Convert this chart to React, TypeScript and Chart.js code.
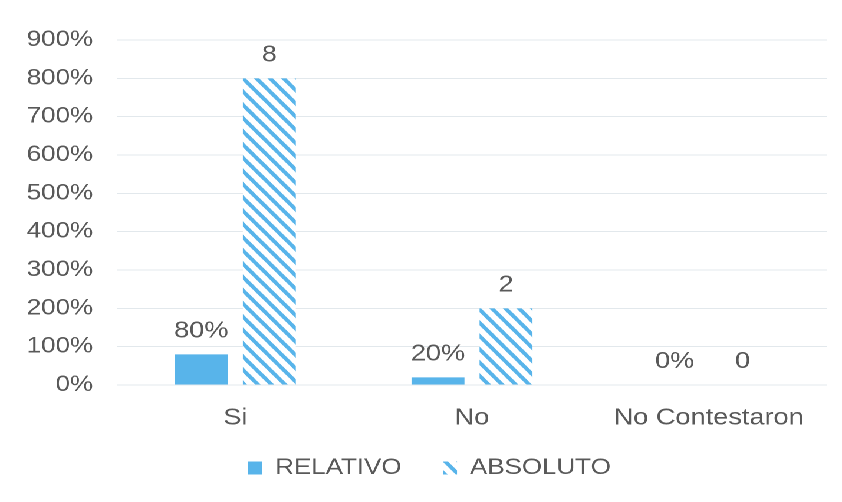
import React, { useEffect, useRef } from "react";
import { Chart, registerables } from "chart.js";

Chart.register(...registerables);

const categories = ["Si", "No", "No Contestaron"];
const relativo = [80, 20, 0];
const absoluto = [8, 2, 0];
const seriesNames = ["RELATIVO", "ABSOLUTO"];
const yMax = 900;
const yStep = 100;

const W = 714;
const H = 502;
const SX = 842 / W;
const FONT = '"Liberation Sans", Arial, sans-serif';
const TEXT = "#595959";
const BLUE = "#58b4ea";

function makeHatch(): CanvasPattern | string {
  const r = 4;
  const w = 11.5;
  const h = 13.3;
  const c = document.createElement("canvas");
  c.width = Math.round(w * r);
  c.height = Math.round(h * r);
  const g = c.getContext("2d");
  if (!g) return BLUE;
  const tw = c.width;
  const th = c.height;
  g.fillStyle = "#ffffff";
  g.fillRect(0, 0, tw, th);
  g.strokeStyle = BLUE;
  g.lineWidth = 3.5 * r;
  for (let k = -2; k <= 2; k++) {
    g.beginPath();
    g.moveTo(k * tw - tw, -th);
    g.lineTo(k * tw + 2 * tw, 2 * th);
    g.stroke();
  }
  const p = g.createPattern(c, "repeat");
  if (!p) return BLUE;
  p.setTransform(new DOMMatrix().scale(1 / r));
  return p;
}

const valueLabels = {
  id: "valueLabels",
  afterDatasetsDraw(chart: any) {
    const ctx = chart.ctx;
    ctx.save();
    ctx.font = `23px ${FONT}`;
    ctx.fillStyle = TEXT;
    ctx.textAlign = "center";
    ctx.textBaseline = "alphabetic";
    chart.data.datasets.forEach((_ds: any, i: number) => {
      const meta = chart.getDatasetMeta(i);
      meta.data.forEach((bar: any, j: number) => {
        const text = i === 0 ? `${relativo[j]}%` : String(absoluto[j]);
        ctx.fillText(text, bar.x, bar.y - 17);
      });
    });
    ctx.restore();
  },
};

const legendShift = {
  id: "legendShift",
  afterLayout(chart: any) {
    if (chart.legend) {
      chart.legend.left += 27;
      chart.legend.top -= 13;
    }
  },
};

export default function App() {
  const ref = useRef<HTMLCanvasElement | null>(null);
  useEffect(() => {
    if (!ref.current) return;
    const hatch = makeHatch();
    const chart = new Chart(ref.current, {
      type: "bar",
      data: {
        labels: categories,
        datasets: [
          {
            label: seriesNames[0],
            data: relativo,
            backgroundColor: BLUE,
            borderColor: "rgba(0,0,0,0)",
            borderWidth: 0,
          },
          {
            label: seriesNames[1],
            data: absoluto.map((v) => v * 100),
            backgroundColor: hatch as any,
            borderColor: "rgba(0,0,0,0)",
            borderWidth: 0,
          },
        ],
      },
      options: {
        responsive: false,
        maintainAspectRatio: false,
        devicePixelRatio: 2,
        animation: false,
        datasets: {
          bar: { categoryPercentage: 0.575, barPercentage: 0.778 },
        },
        layout: { padding: { top: 40, right: 12.7, bottom: 0, left: 0 } },
        scales: {
          x: {
            grid: { display: false, drawTicks: false },
            border: { display: false },
            ticks: { color: TEXT, font: { family: FONT, size: 23 }, padding: 19.2 },
            afterFit: (s: any) => {
              s.height = 50;
            },
          },
          y: {
            min: 0,
            max: yMax,
            grid: { color: "#e2e8ec", lineWidth: 1, drawTicks: false },
            border: { display: false },
            ticks: {
              stepSize: yStep,
              color: TEXT,
              font: { family: FONT, size: 22 },
              padding: 20.3,
              callback: (v: any) => `${v}%`,
            },
            afterFit: (s: any) => {
              s.width = 99.2;
            },
          },
        },
        plugins: {
          legend: {
            position: "bottom",
            labels: {
              color: TEXT,
              font: { family: FONT, size: 22 },
              boxWidth: 12,
              boxHeight: 13,
              padding: 35,
            },
          },
          tooltip: { enabled: false },
        },
      },
      plugins: [valueLabels, legendShift],
    });
    return () => chart.destroy();
  }, []);
  return (
    <div
      style={{
        position: "absolute",
        left: 0,
        top: 0,
        width: W,
        height: H,
        transform: `scaleX(${SX})`,
        transformOrigin: "0 0",
        background: "#ffffff",
      }}
    >
      <canvas ref={ref} width={W} height={H} />
    </div>
  );
}
